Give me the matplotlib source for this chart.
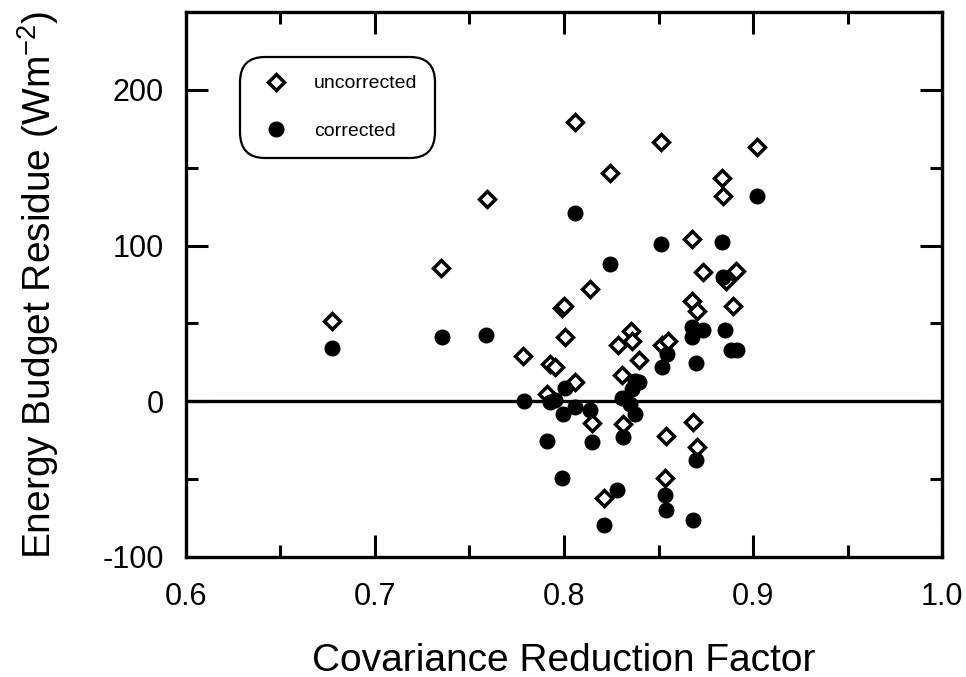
import matplotlib
matplotlib.use("Agg")
import matplotlib.pyplot as plt
from matplotlib.ticker import MultipleLocator, FormatStrFormatter

plt.rcParams['font.family'] = ['Liberation Sans', 'DejaVu Sans']
plt.rcParams['axes.unicode_minus'] = False
plt.rcParams['mathtext.fontset'] = 'custom'
plt.rcParams['mathtext.rm'] = 'Liberation Sans'

# covariance reduction factor / energy budget residue (W m-2)
unc_x = [0.677, 0.735, 0.759, 0.7785, 0.7908, 0.7925, 0.7950, 0.7991, 0.8000, 0.8005,
         0.8058, 0.806, 0.8138, 0.8150, 0.8210, 0.8243, 0.8284, 0.8305, 0.8314, 0.8356,
         0.8362, 0.8395, 0.8513, 0.8519, 0.8552, 0.8534, 0.8540, 0.8676, 0.8676, 0.8702,
         0.8680, 0.8705, 0.8737, 0.8834, 0.8840, 0.8855, 0.8896, 0.8912, 0.902]
unc_y = [51.4, 85.3, 129.7, 29.1, 4.9, 24.0, 22.3, 60.0, 61.0, 41.4,
         12.6, 179.6, 71.8, -13.9, -61.9, 146.8, 36.0, 16.7, -14.5, 44.8,
         38.8, 26.4, 166.8, 36.0, 38.8, -49.3, -22.3, 104.0, 64.1, 57.8,
         -13.3, -29.4, 83.0, 143.2, 131.8, 77.0, 61.0, 83.4, 163.5]

cor_x = [0.677, 0.7353, 0.7587, 0.7788, 0.7912, 0.7926, 0.7952, 0.7991, 0.7993, 0.8005,
         0.8058, 0.806, 0.8140, 0.8149, 0.8212, 0.8245, 0.8282, 0.8305, 0.8314, 0.835,
         0.8358, 0.8376, 0.8395, 0.8376, 0.8513, 0.8517, 0.8543, 0.8534, 0.8540, 0.8676,
         0.8676, 0.8684, 0.8700, 0.8700, 0.8737, 0.8834, 0.8843, 0.8852, 0.8883, 0.8915,
         0.902]
cor_y = [34.5, 41.0, 42.4, 0.3, -25.7, -0.4, 0.6, -49.1, -7.9, 8.5,
         -3.6, 120.7, -5.8, -26.1, -79.3, 87.9, -56.8, 2.2, -22.9, -2.0,
         8.1, 13.0, 12.4, -7.9, 100.7, 22.1, 30.2, -60.5, -69.9, 47.6,
         41.0, -76.5, 24.4, -37.9, 45.7, 102.5, 80.0, 45.7, 33.0, 33.0,
         131.8]

fig = plt.figure(figsize=(9.66, 6.77), dpi=100)
ax = fig.add_axes([0.1925, 0.1773, 0.7827, 0.805])

ax.axhline(0, color='black', linewidth=2.4, zorder=1)
ax.plot(unc_x, unc_y, linestyle='none', marker='D', markersize=8.4,
        markerfacecolor='white', markeredgecolor='black', markeredgewidth=2.5,
        label='uncorrected', zorder=2)
ax.plot(cor_x, cor_y, linestyle='none', marker='o', markersize=10.5,
        color='black', label='corrected', zorder=3)

ax.set_xlim(0.6, 1.0)
ax.set_ylim(-100, 250)
ax.set_xticks([0.6, 0.7, 0.8, 0.9, 1.0])
ax.xaxis.set_minor_locator(MultipleLocator(0.05))
ax.xaxis.set_major_formatter(FormatStrFormatter('%.1f'))
ax.set_yticks([-100, 0, 100, 200])
ax.yaxis.set_minor_locator(MultipleLocator(50))

ax.tick_params(which='both', direction='in', top=True, right=True, width=2.2,
               labelsize=22)
ax.tick_params(which='major', length=15.5)
ax.tick_params(which='minor', length=8.5)
ax.tick_params(axis='x', pad=18)
ax.tick_params(axis='y', pad=16)
for s in ax.spines.values():
    s.set_linewidth(2.4)

ax.set_xlabel('Covariance Reduction Factor', fontsize=28, labelpad=22)
ax.set_ylabel('Energy Budget Residue (Wm$^{-2}$)', fontsize=28, labelpad=30)

leg = ax.legend(loc='upper left', bbox_to_anchor=(0.0714, 0.917), fontsize=14,
                frameon=True, fancybox=True, framealpha=1, edgecolor='black',
                borderpad=0.9, labelspacing=1.55, handletextpad=1.0,
                handlelength=1.9, borderaxespad=0)
leg.get_frame().set_linewidth(1.6)
leg.get_frame().set_boxstyle('round,pad=0,rounding_size=1.3')

plt.savefig('out.png', dpi=100)
